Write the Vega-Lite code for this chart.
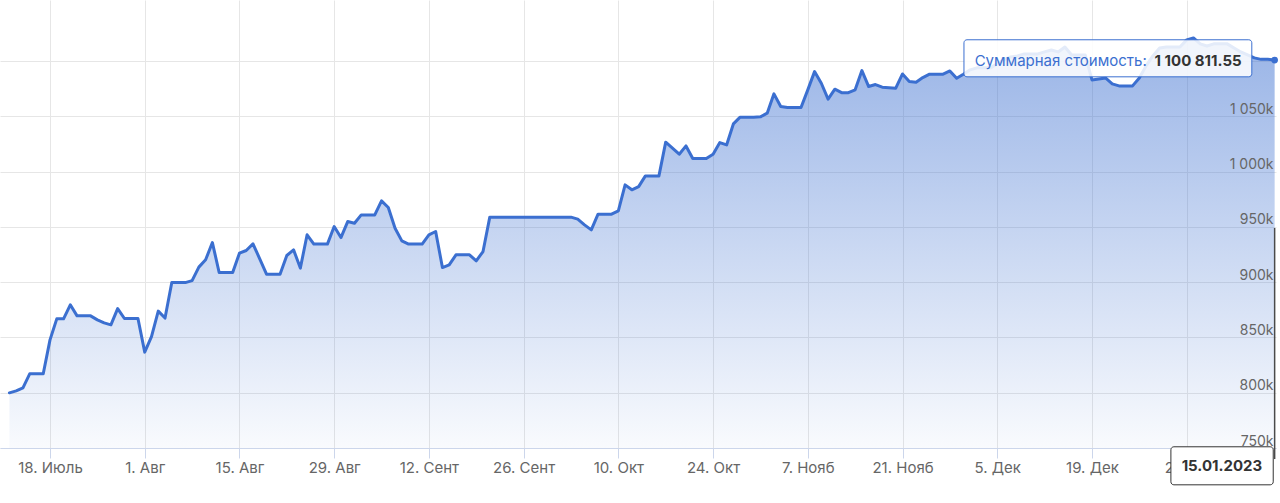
{
  "$schema": "https://vega.github.io/schema/vega-lite/v6.json",
  "width": 1276,
  "height": 448,
  "autosize": {"type": "none"},
  "padding": {"left": 0, "top": 0, "right": 4, "bottom": 55},
  "background": "#ffffff",
  "config": {
    "view": {"stroke": null},
    "font": "Inter",
    "locale": {"number": {"decimal": ".", "thousands": " ", "grouping": [3], "currency": ["", ""]}}
  },
  "data": {
    "values": [
      {"date": "2022-07-12", "value": 799900},
      {"date": "2022-07-13", "value": 801700},
      {"date": "2022-07-14", "value": 804400},
      {"date": "2022-07-15", "value": 817100},
      {"date": "2022-07-16", "value": 817100},
      {"date": "2022-07-17", "value": 817100},
      {"date": "2022-07-18", "value": 847800},
      {"date": "2022-07-19", "value": 866800},
      {"date": "2022-07-20", "value": 866800},
      {"date": "2022-07-21", "value": 879500},
      {"date": "2022-07-22", "value": 869500},
      {"date": "2022-07-23", "value": 869500},
      {"date": "2022-07-24", "value": 869500},
      {"date": "2022-07-25", "value": 865900},
      {"date": "2022-07-26", "value": 863200},
      {"date": "2022-07-27", "value": 861400},
      {"date": "2022-07-28", "value": 876100},
      {"date": "2022-07-29", "value": 867100},
      {"date": "2022-07-30", "value": 867100},
      {"date": "2022-07-31", "value": 867100},
      {"date": "2022-08-01", "value": 836700},
      {"date": "2022-08-02", "value": 850800},
      {"date": "2022-08-03", "value": 873800},
      {"date": "2022-08-04", "value": 867500},
      {"date": "2022-08-05", "value": 899600},
      {"date": "2022-08-06", "value": 899600},
      {"date": "2022-08-07", "value": 899600},
      {"date": "2022-08-08", "value": 901400},
      {"date": "2022-08-09", "value": 913600},
      {"date": "2022-08-10", "value": 920200},
      {"date": "2022-08-11", "value": 935800},
      {"date": "2022-08-12", "value": 908700},
      {"date": "2022-08-13", "value": 908700},
      {"date": "2022-08-14", "value": 908700},
      {"date": "2022-08-15", "value": 926200},
      {"date": "2022-08-16", "value": 928600},
      {"date": "2022-08-17", "value": 934600},
      {"date": "2022-08-18", "value": 921100},
      {"date": "2022-08-19", "value": 907200},
      {"date": "2022-08-20", "value": 907200},
      {"date": "2022-08-21", "value": 907200},
      {"date": "2022-08-22", "value": 924100},
      {"date": "2022-08-23", "value": 929200},
      {"date": "2022-08-24", "value": 912700},
      {"date": "2022-08-25", "value": 942800},
      {"date": "2022-08-26", "value": 934400},
      {"date": "2022-08-27", "value": 934400},
      {"date": "2022-08-28", "value": 934400},
      {"date": "2022-08-29", "value": 950300},
      {"date": "2022-08-30", "value": 940300},
      {"date": "2022-08-31", "value": 954800},
      {"date": "2022-09-01", "value": 953300},
      {"date": "2022-09-02", "value": 960800},
      {"date": "2022-09-03", "value": 960800},
      {"date": "2022-09-04", "value": 960800},
      {"date": "2022-09-05", "value": 973500},
      {"date": "2022-09-06", "value": 967500},
      {"date": "2022-09-07", "value": 948800},
      {"date": "2022-09-08", "value": 937300},
      {"date": "2022-09-09", "value": 934400},
      {"date": "2022-09-10", "value": 934400},
      {"date": "2022-09-11", "value": 934400},
      {"date": "2022-09-12", "value": 942800},
      {"date": "2022-09-13", "value": 945800},
      {"date": "2022-09-14", "value": 913200},
      {"date": "2022-09-15", "value": 915600},
      {"date": "2022-09-16", "value": 924700},
      {"date": "2022-09-17", "value": 924700},
      {"date": "2022-09-18", "value": 924700},
      {"date": "2022-09-19", "value": 919300},
      {"date": "2022-09-20", "value": 927700},
      {"date": "2022-09-21", "value": 958800},
      {"date": "2022-09-22", "value": 958800},
      {"date": "2022-09-23", "value": 958800},
      {"date": "2022-09-24", "value": 958800},
      {"date": "2022-09-25", "value": 958800},
      {"date": "2022-09-26", "value": 958800},
      {"date": "2022-09-27", "value": 958800},
      {"date": "2022-09-28", "value": 958800},
      {"date": "2022-09-29", "value": 958800},
      {"date": "2022-09-30", "value": 958800},
      {"date": "2022-10-01", "value": 958800},
      {"date": "2022-10-02", "value": 958800},
      {"date": "2022-10-03", "value": 958800},
      {"date": "2022-10-04", "value": 957000},
      {"date": "2022-10-05", "value": 951800},
      {"date": "2022-10-06", "value": 947300},
      {"date": "2022-10-07", "value": 961500},
      {"date": "2022-10-08", "value": 961500},
      {"date": "2022-10-09", "value": 961500},
      {"date": "2022-10-10", "value": 964500},
      {"date": "2022-10-11", "value": 988000},
      {"date": "2022-10-12", "value": 983500},
      {"date": "2022-10-13", "value": 986400},
      {"date": "2022-10-14", "value": 996100},
      {"date": "2022-10-15", "value": 996100},
      {"date": "2022-10-16", "value": 996100},
      {"date": "2022-10-17", "value": 1026600},
      {"date": "2022-10-18", "value": 1021200},
      {"date": "2022-10-19", "value": 1015700},
      {"date": "2022-10-20", "value": 1023200},
      {"date": "2022-10-21", "value": 1011800},
      {"date": "2022-10-22", "value": 1011800},
      {"date": "2022-10-23", "value": 1011800},
      {"date": "2022-10-24", "value": 1015700},
      {"date": "2022-10-25", "value": 1026200},
      {"date": "2022-10-26", "value": 1024100},
      {"date": "2022-10-27", "value": 1043100},
      {"date": "2022-10-28", "value": 1049200},
      {"date": "2022-10-29", "value": 1049200},
      {"date": "2022-10-30", "value": 1049200},
      {"date": "2022-10-31", "value": 1049500},
      {"date": "2022-11-01", "value": 1052800},
      {"date": "2022-11-02", "value": 1070300},
      {"date": "2022-11-03", "value": 1058800},
      {"date": "2022-11-04", "value": 1057900},
      {"date": "2022-11-05", "value": 1057900},
      {"date": "2022-11-06", "value": 1057900},
      {"date": "2022-11-07", "value": 1073900},
      {"date": "2022-11-08", "value": 1090400},
      {"date": "2022-11-09", "value": 1079900},
      {"date": "2022-11-10", "value": 1065500},
      {"date": "2022-11-11", "value": 1074500},
      {"date": "2022-11-12", "value": 1071400},
      {"date": "2022-11-13", "value": 1071400},
      {"date": "2022-11-14", "value": 1073900},
      {"date": "2022-11-15", "value": 1091300},
      {"date": "2022-11-16", "value": 1076900},
      {"date": "2022-11-17", "value": 1078700},
      {"date": "2022-11-18", "value": 1076300},
      {"date": "2022-11-19", "value": 1075800},
      {"date": "2022-11-20", "value": 1075400},
      {"date": "2022-11-21", "value": 1088300},
      {"date": "2022-11-22", "value": 1081400},
      {"date": "2022-11-23", "value": 1080800},
      {"date": "2022-11-24", "value": 1085000},
      {"date": "2022-11-25", "value": 1088100},
      {"date": "2022-11-26", "value": 1088100},
      {"date": "2022-11-27", "value": 1088100},
      {"date": "2022-11-28", "value": 1091000},
      {"date": "2022-11-29", "value": 1084400},
      {"date": "2022-11-30", "value": 1088100},
      {"date": "2022-12-01", "value": 1092000},
      {"date": "2022-12-02", "value": 1093800},
      {"date": "2022-12-03", "value": 1093800},
      {"date": "2022-12-04", "value": 1093800},
      {"date": "2022-12-05", "value": 1097400},
      {"date": "2022-12-06", "value": 1101000},
      {"date": "2022-12-07", "value": 1103700},
      {"date": "2022-12-08", "value": 1104600},
      {"date": "2022-12-09", "value": 1106400},
      {"date": "2022-12-10", "value": 1106400},
      {"date": "2022-12-11", "value": 1106400},
      {"date": "2022-12-12", "value": 1108200},
      {"date": "2022-12-13", "value": 1110000},
      {"date": "2022-12-14", "value": 1108200},
      {"date": "2022-12-15", "value": 1112700},
      {"date": "2022-12-16", "value": 1105500},
      {"date": "2022-12-17", "value": 1105500},
      {"date": "2022-12-18", "value": 1105500},
      {"date": "2022-12-19", "value": 1082900},
      {"date": "2022-12-20", "value": 1083800},
      {"date": "2022-12-21", "value": 1084700},
      {"date": "2022-12-22", "value": 1079300},
      {"date": "2022-12-23", "value": 1077500},
      {"date": "2022-12-24", "value": 1077500},
      {"date": "2022-12-25", "value": 1077500},
      {"date": "2022-12-26", "value": 1084700},
      {"date": "2022-12-27", "value": 1095600},
      {"date": "2022-12-28", "value": 1104600},
      {"date": "2022-12-29", "value": 1111800},
      {"date": "2022-12-30", "value": 1112700},
      {"date": "2022-12-31", "value": 1112700},
      {"date": "2023-01-01", "value": 1112700},
      {"date": "2023-01-02", "value": 1119100},
      {"date": "2023-01-03", "value": 1120900},
      {"date": "2023-01-04", "value": 1115500},
      {"date": "2023-01-05", "value": 1113600},
      {"date": "2023-01-06", "value": 1115500},
      {"date": "2023-01-07", "value": 1115500},
      {"date": "2023-01-08", "value": 1115500},
      {"date": "2023-01-09", "value": 1111800},
      {"date": "2023-01-10", "value": 1108200},
      {"date": "2023-01-11", "value": 1105500},
      {"date": "2023-01-12", "value": 1102800},
      {"date": "2023-01-13", "value": 1101500},
      {"date": "2023-01-14", "value": 1101500},
      {"date": "2023-01-15", "value": 1100811.55}
    ]
  },
  "resolve": {"axis": {"y": "independent"}},
  "layer": [
    {
      "mark": {
        "type": "area",
        "line": false,
        "fill": {
          "gradient": "linear",
          "x1": 0, "y1": 0, "x2": 0, "y2": 1,
          "stops": [
            {"offset": 0, "color": "rgba(59,111,208,0.52)"},
            {"offset": 1, "color": "rgba(59,111,208,0.03)"}
          ]
        }
      },
      "encoding": {
        "x": {
          "field": "date",
          "type": "temporal",
          "scale": {
            "type": "utc",
            "nice": false,
            "domain": [
              {"year": 2022, "month": 7, "date": 10, "hours": 14, "minutes": 38, "utc": true},
              {"year": 2023, "month": 1, "date": 15, "hours": 4, "minutes": 50, "utc": true}
            ]
          },
          "axis": {
            "title": null,
            "values": [
              {"year": 2022, "month": 7, "date": 18, "utc": true},
              {"year": 2022, "month": 8, "date": 1, "utc": true},
              {"year": 2022, "month": 8, "date": 15, "utc": true},
              {"year": 2022, "month": 8, "date": 29, "utc": true},
              {"year": 2022, "month": 9, "date": 12, "utc": true},
              {"year": 2022, "month": 9, "date": 26, "utc": true},
              {"year": 2022, "month": 10, "date": 10, "utc": true},
              {"year": 2022, "month": 10, "date": 24, "utc": true},
              {"year": 2022, "month": 11, "date": 7, "utc": true},
              {"year": 2022, "month": 11, "date": 21, "utc": true},
              {"year": 2022, "month": 12, "date": 5, "utc": true},
              {"year": 2022, "month": 12, "date": 19, "utc": true},
              {"year": 2023, "month": 1, "date": 2, "utc": true}
            ],
            "labelExpr": "utcdate(datum.value) + '. ' + ['Янв','Фев','Март','Апр','Май','Июнь','Июль','Авг','Сент','Окт','Нояб','Дек'][utcmonth(datum.value)]",
            "grid": true,
            "gridColor": "#e6e6e6",
            "gridWidth": 1,
            "domainColor": "#ccd6eb",
            "tickColor": "#ccd6eb",
            "tickSize": 10,
            "labelColor": "#666666",
            "labelFontSize": 15,
            "labelPadding": 2,
            "labelFlush": false,
            "labelOverlap": false,
            "zindex": 0
          }
        },
        "y": {
          "field": "value",
          "type": "quantitative",
          "scale": {"domain": [750000, 1155170], "nice": false, "zero": false},
          "axis": {
            "orient": "right",
            "title": null,
            "values": [750000, 800000, 850000, 900000, 950000, 1000000, 1050000, 1100000],
            "grid": true,
            "gridColor": "#e6e6e6",
            "labels": false,
            "ticks": false,
            "domain": false,
            "zindex": 0
          }
        },
        "y2": {"datum": 750000}
      }
    },
    {
      "mark": {"type": "line", "color": "#3b6fd0", "strokeWidth": 3, "strokeJoin": "round", "strokeCap": "round"},
      "encoding": {
        "x": {"field": "date", "type": "temporal"},
        "y": {
          "field": "value",
          "type": "quantitative",
          "axis": {
            "orient": "right",
            "title": null,
            "values": [750000, 800000, 850000, 900000, 950000, 1000000, 1050000],
            "labelExpr": "replace(format(datum.value / 1000, ','), ',', ' ') + 'k'",
            "grid": false,
            "ticks": false,
            "tickSize": 0,
            "domain": false,
            "labelAlign": "right",
            "labelBaseline": "alphabetic",
            "labelPadding": -3,
            "labelOffset": -3,
            "labelColor": "#666666",
            "labelFontSize": 14,
            "labelOverlap": false,
            "labelFlush": false,
            "zindex": 1
          }
        }
      }
    },
    {
      "transform": [{"filter": "datum.value > 1100800 && datum.value < 1100820"}],
      "mark": {"type": "rule", "color": "#4a4a4a", "strokeWidth": 1.5},
      "encoding": {
        "x": {"field": "date", "type": "temporal"},
        "y": {"datum": 949000, "type": "quantitative", "axis": null},
        "y2": {"datum": 740000}
      }
    },
    {
      "transform": [{"filter": "datum.value > 1100800 && datum.value < 1100820"}],
      "mark": {"type": "point", "filled": true, "color": "#3b6fd0", "size": 45, "opacity": 1},
      "encoding": {
        "x": {"field": "date", "type": "temporal"},
        "y": {"field": "value", "type": "quantitative", "axis": null}
      }
    },
    {
      "transform": [{"filter": "datum.value > 1100800 && datum.value < 1100820"}],
      "mark": {"type": "rect", "fill": "#ffffff", "fillOpacity": 0.86, "stroke": "#3b6fd0", "strokeWidth": 1, "cornerRadius": 3},
      "encoding": {
        "x": {"datum": {"year": 2022, "month": 11, "date": 30, "hours": 2, "utc": true}, "type": "temporal"},
        "x2": {"datum": {"year": 2023, "month": 1, "date": 11, "hours": 15, "utc": true}},
        "y": {"datum": 1119200, "type": "quantitative", "axis": null},
        "y2": {"datum": 1085700}
      }
    },
    {
      "transform": [{"filter": "datum.value > 1100800 && datum.value < 1100820"}],
      "mark": {"type": "text", "text": "Суммарная стоимость: ", "align": "left", "baseline": "alphabetic", "dx": -300, "dy": 6, "color": "#3b6fd0", "fontSize": 15},
      "encoding": {
        "x": {"field": "date", "type": "temporal"},
        "y": {"field": "value", "type": "quantitative", "axis": null}
      }
    },
    {
      "transform": [{"filter": "datum.value > 1100800 && datum.value < 1100820"}],
      "mark": {"type": "text", "align": "right", "baseline": "alphabetic", "dx": -33, "dy": 6, "color": "#333333", "fontSize": 15, "fontWeight": "bold"},
      "encoding": {
        "x": {"field": "date", "type": "temporal"},
        "y": {"field": "value", "type": "quantitative", "axis": null},
        "text": {"field": "value", "type": "quantitative", "format": ",.2f"}
      }
    },
    {
      "transform": [{"filter": "datum.value > 1100800 && datum.value < 1100820"}],
      "mark": {"type": "rect", "fill": "#ffffff", "stroke": "#333333", "strokeWidth": 1, "cornerRadius": 3},
      "encoding": {
        "x": {"datum": {"year": 2022, "month": 12, "date": 30, "hours": 16, "utc": true}, "type": "temporal"},
        "x2": {"datum": {"year": 2023, "month": 1, "date": 14, "hours": 19, "utc": true}},
        "y": {"datum": 751100, "type": "quantitative", "axis": null},
        "y2": {"datum": 716700}
      }
    },
    {
      "transform": [{"filter": "datum.value > 1100800 && datum.value < 1100820"}],
      "mark": {"type": "text", "text": "15.01.2023", "align": "center", "baseline": "middle", "color": "#333333", "fontSize": 15, "fontWeight": "bold"},
      "encoding": {
        "x": {"datum": {"year": 2023, "month": 1, "date": 7, "hours": 5, "utc": true}, "type": "temporal"},
        "y": {"datum": 734000, "type": "quantitative", "axis": null}
      }
    }
  ]
}
